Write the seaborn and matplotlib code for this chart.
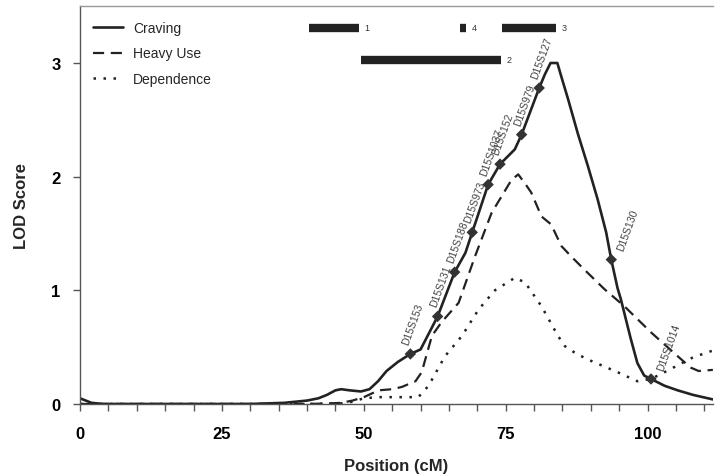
import numpy as np
import pandas as pd
import matplotlib
import matplotlib.pyplot as plt
from matplotlib.ticker import MultipleLocator
import seaborn as sns

sns.set_theme(style="ticks", context="paper")
plt.rcParams["font.family"] = ["Liberation Sans", "DejaVu Sans"]

# LOD profiles (position in cM)
craving_pos = [0, 1, 2, 3, 4, 10, 20, 30, 36, 38, 40, 42, 43.5, 45, 46, 47.5,
               49.5, 51, 52.5, 54, 56, 58.2, 60, 63.0, 66.0, 67.9, 69.1, 71.9,
               74.0, 76.6, 77.8, 80.9, 81.9, 82.9, 84.1, 84.8, 86, 87.7, 89.5,
               91.2, 92.7, 93.6, 94.7, 95.3, 97, 98.2, 99.4, 100.6, 103, 105.3,
               108, 111.5]
craving_lod = [0.05, 0.03, 0.01, 0.005, 0, 0, 0, 0, 0.01, 0.02, 0.03, 0.05,
               0.08, 0.12, 0.13, 0.12, 0.11, 0.13, 0.2, 0.29, 0.37, 0.44, 0.48,
               0.77, 1.16, 1.33, 1.51, 1.93, 2.11, 2.24, 2.37, 2.78, 2.9, 3.0,
               3.0, 2.88, 2.68, 2.38, 2.09, 1.8, 1.51, 1.27, 1.02, 0.92, 0.58,
               0.36, 0.25, 0.22, 0.16, 0.12, 0.08, 0.04]

heavy_pos = [0, 10, 20, 30, 40, 44, 46, 48, 50, 52.6, 55, 56.7, 59.1, 60.2, 62,
             63.7, 66.7, 69.6, 72.5, 76, 77.2, 78.4, 79.5, 81.3, 83, 84.8,
             86.5, 88.9, 92.4, 95.9, 100.6, 105.3, 107.6, 109, 111.5]
heavy_lod = [0, 0, 0, 0, 0, 0.005, 0.01, 0.03, 0.06, 0.12, 0.13, 0.15, 0.2,
             0.28, 0.6, 0.72, 0.89, 1.3, 1.68, 1.97, 2.02, 1.94, 1.86, 1.65,
             1.58, 1.39, 1.3, 1.18, 1.01, 0.86, 0.63, 0.42, 0.32, 0.29, 0.3]

dep_pos = [0, 10, 20, 30, 40, 46, 48, 50, 52.6, 56, 59.6, 61.4, 64.3, 67.3,
           70.2, 73.1, 76.6, 78.4, 81.3, 84.2, 85.4, 87.5, 90, 94.7, 98.2,
           100.6, 103, 105.3, 108, 111.5]
dep_lod = [0, 0, 0, 0, 0, 0.005, 0.02, 0.05, 0.06, 0.06, 0.06, 0.16, 0.42,
           0.6, 0.83, 1.0, 1.11, 1.07, 0.86, 0.6, 0.51, 0.44, 0.38, 0.28, 0.2,
           0.22, 0.28, 0.34, 0.41, 0.47]

# genotyped markers on the craving curve
marker_names = ["D15S153", "D15S131", "D15S188", "D15S973", "D15S1037",
                "D15S152", "D15S979", "D15S127", "D15S130", "D15S1014"]
marker_pos = [58.2, 63.0, 66.0, 69.1, 71.9, 74.0, 77.8, 80.9, 93.6, 100.6]
marker_lod = [0.44, 0.77, 1.16, 1.51, 1.93, 2.11, 2.37, 2.78, 1.27, 0.22]

# linkage regions from other studies
bar_labels = ["1", "2", "3", "4"]
bar_start = [40.4, 49.5, 74.3, 67.0]
bar_end = [49.1, 74.2, 83.8, 68.0]
bar_level = [3.31, 3.03, 3.31, 3.31]

ink = "#222222"

fig = plt.figure(figsize=(7.15, 4.77), dpi=100)
ax = fig.add_axes([0.112, 0.151, 0.885, 0.834])

sns.lineplot(x=craving_pos, y=craving_lod, ax=ax, color=ink, linewidth=1.9,
             label="Craving")
sns.lineplot(x=heavy_pos, y=heavy_lod, ax=ax, color=ink, linewidth=1.6,
             linestyle=(0, (5, 3)), label="Heavy Use")
sns.lineplot(x=dep_pos, y=dep_lod, ax=ax, color=ink, linewidth=1.8,
             linestyle=(0, (1, 3)), label="Dependence")

sns.scatterplot(x=marker_pos, y=marker_lod, ax=ax, marker="D", s=34,
                color="#333333", edgecolor="none", zorder=5)

# labels on the falling side of the peak sit to the right of the curve
right_side = {"D15S130", "D15S1014"}
for name, x, y in zip(marker_names, marker_pos, marker_lod):
    if name in right_side:
        ax.annotate(name, (x, y), xytext=(3, 8), textcoords="offset points",
                    rotation=70, rotation_mode="anchor", ha="left", va="top",
                    fontsize=7.5, color="#444444")
    else:
        ax.annotate(name, (x, y), xytext=(0, 6), textcoords="offset points",
                    rotation=70, rotation_mode="anchor", ha="left",
                    va="bottom", fontsize=7.5, color="#444444")

ax.hlines(bar_level, bar_start, bar_end, colors=ink, linewidth=6)
for lab, x, y in zip(bar_labels, bar_end, bar_level):
    ax.annotate(lab, (x, y), xytext=(4, 0), textcoords="offset points",
                ha="left", va="center", fontsize=6.5, color="#333333")

ax.set_xlim(0, 111.5)
ax.set_ylim(0, 3.5)
ax.xaxis.set_major_locator(MultipleLocator(25))
ax.xaxis.set_minor_locator(MultipleLocator(5))
ax.yaxis.set_major_locator(MultipleLocator(1))
ax.tick_params(axis="both", which="both", direction="out", length=5,
               width=1, color="#555555")
ax.tick_params(axis="x", pad=11)
ax.tick_params(axis="y", pad=9)
for lab in ax.get_xticklabels() + ax.get_yticklabels():
    lab.set_fontweight("bold")
    lab.set_fontsize(12)
    lab.set_color("black")

ax.set_xlabel("Position (cM)", fontsize=12, fontweight="bold", labelpad=12)
ax.set_ylabel("LOD Score", fontsize=12, fontweight="bold", labelpad=16)

for side in ["left", "bottom"]:
    ax.spines[side].set_color("#555555")
ax.spines["top"].set_color("#999999")
ax.spines["right"].set_visible(False)

ax.legend(loc="upper left", bbox_to_anchor=(0.0, 0.995), frameon=False,
          fontsize=10, handlelength=2.2, handletextpad=0.7, labelspacing=0.85)

plt.savefig("out.png", dpi=100)
plt.close()
